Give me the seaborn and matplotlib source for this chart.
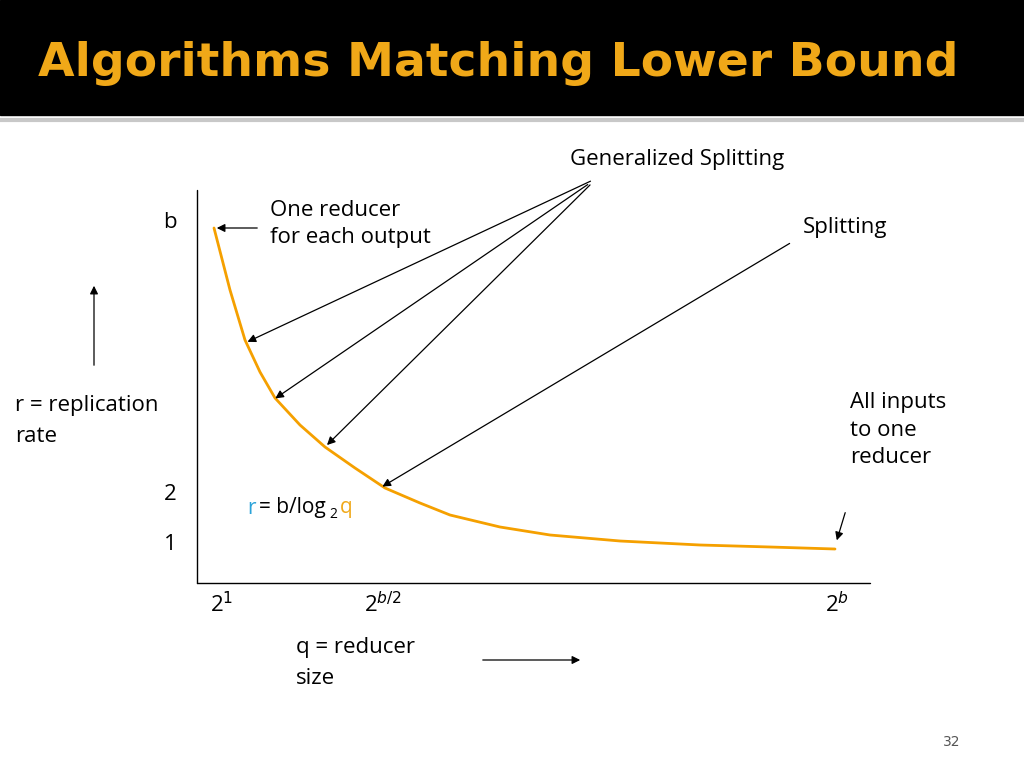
import matplotlib
matplotlib.use("Agg")
import matplotlib.pyplot as plt
import seaborn as sns
import pandas as pd

# curve (pixel-space positions on slide)
curve_x = [214, 230, 245, 260, 275, 300, 325, 355, 385, 420, 450, 500, 550, 620, 700, 770, 835]
curve_y = [228, 290, 340, 372, 398, 425, 447, 468, 488, 503, 515, 527, 535, 541, 545, 547, 549]
y_ticks = ["b", "2", "1"]
x_ticks = ["2$^{1}$", "2$^{b/2}$", "2$^{b}$"]

sns.set_theme(style="white")
fig = plt.figure(figsize=(10.24, 7.68), dpi=100)
ax = fig.add_axes([0, 0, 1, 1])
ax.set_xlim(0, 1024); ax.set_ylim(768, 0); ax.axis("off")

ax.add_patch(plt.Rectangle((0, 0), 1024, 115, color="black"))
ax.plot([0, 1024], [120, 120], color="#c8c8c8", lw=3)
ax.text(38, 63, "Algorithms Matching Lower Bound", color="#F0A818", fontsize=34,
        fontweight="bold", va="center", ha="left", family="DejaVu Sans")

df = pd.DataFrame({"x": curve_x, "y": curve_y})
sns.lineplot(data=df, x="x", y="y", ax=ax, color="#F5A000", lw=2, sort=False)
ax.set_xlabel(""); ax.set_ylabel("")

ax.plot([197, 197], [190, 583], color="black", lw=1)
ax.plot([197, 870], [583, 583], color="black", lw=1)

f = dict(fontsize=16, family="Open Sans", color="black")
for lbl, y in zip(y_ticks, [223, 495, 545]):
    ax.text(170, y, lbl, ha="center", va="center", **f)
for lbl, x in zip(x_ticks, [222, 383, 837]):
    ax.text(x, 605, lbl, ha="center", va="center", **f)

ax.text(677, 159, "Generalized Splitting", ha="center", va="center", **f)
ax.text(270, 224, "One reducer\nfor each output", ha="left", va="center", linespacing=1.4, **f)
ax.text(803, 228, "Splitting", ha="left", va="center", **f)
ax.text(850, 430, "All inputs\nto one\nreducer", ha="left", va="center", linespacing=1.4, **f)
ax.text(15, 421, "r = replication\nrate", ha="left", va="center", linespacing=1.6, **f)
ax.text(296, 663, "q = reducer\nsize", ha="left", va="center", linespacing=1.6, **f)
ax.text(247, 508, "r", color="#2BA3D9", fontsize=15, family="Open Sans", va="center")
ax.text(259, 508, "= b/log", color="black", fontsize=15, family="Open Sans", va="center")
ax.text(329, 515, "2", color="black", fontsize=10, family="Open Sans", va="center")
ax.text(340, 508, "q", color="#F0A818", fontsize=15, family="Open Sans", va="center")
ax.text(952, 742, "32", fontsize=10, color="#555555", ha="center", va="center")

arrows = [((593, 180), (245, 343)), ((590, 183), (273, 400)), ((592, 183), (325, 447)),
          ((792, 242), (380, 488)), ((260, 228), (214, 228)), ((846, 510), (836, 543)),
          ((94, 368), (94, 283)), ((480, 660), (583, 660))]
for (s, e) in arrows:
    ax.annotate("", xy=e, xytext=s,
                arrowprops=dict(arrowstyle="-|>", color="black", lw=0.9, mutation_scale=12))

fig.savefig("out.png", dpi=100)
